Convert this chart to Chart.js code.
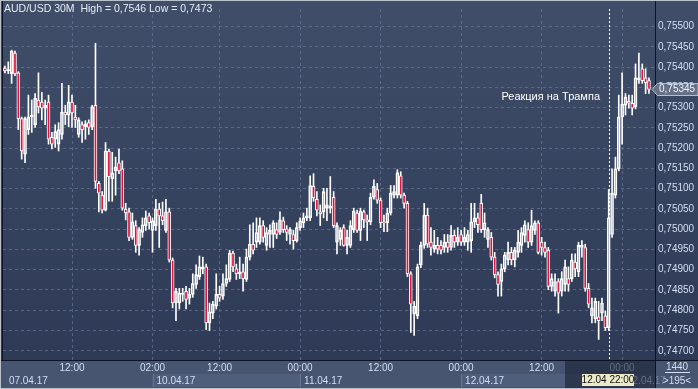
<!DOCTYPE html>
<html lang="ru">

<head>
  <meta charset="UTF-8">
  <script src="https://cdn.jsdelivr.net/npm/chart.js@4.4.0/dist/chart.umd.min.js"></script>
  <title>AUD/USD 30M</title>
  <style>
    body { margin: 0; background: #2f3b57; }
    canvas { display: block; }
  </style>
</head>

<body>
  <canvas id="myChart" width="698" height="389"></canvas>
  <script>
    // AUD/USD 30M candles, 07.04.17 02:00 .. 13.04.17 04:00
    const open = [
      0.75398, 0.75391, 0.75384, 0.75435, 0.75386, 0.75273, 0.75185, 0.75246, 0.75277, 0.75258,
      0.75319, 0.75314, 0.75299, 0.75314, 0.75227, 0.75222, 0.75210, 0.75234, 0.75289, 0.75282,
      0.75314, 0.75277, 0.75234, 0.75258, 0.75253, 0.75263, 0.75253, 0.75306, 0.75113, 0.75084,
      0.75047, 0.75193, 0.75125, 0.75144, 0.75164, 0.75149, 0.75050, 0.75043, 0.74980, 0.75009,
      0.74960, 0.74992, 0.75009, 0.75033, 0.74997, 0.75009, 0.75050, 0.75033, 0.74997, 0.75043,
      0.74924, 0.74818, 0.74818, 0.74839, 0.74847, 0.74830, 0.74839, 0.74864, 0.74883, 0.74902,
      0.74907, 0.74769, 0.74793, 0.74810, 0.74839, 0.74835, 0.74866, 0.74876, 0.74941, 0.74902,
      0.74890, 0.74895, 0.74876, 0.74931, 0.74963, 0.74968, 0.74968, 0.75009, 0.74960, 0.74987,
      0.74987, 0.74999, 0.74992, 0.75021, 0.75001, 0.74987, 0.74987, 0.74972, 0.75004, 0.75016,
      0.75028, 0.75028, 0.75106, 0.75074, 0.75043, 0.75043, 0.75052, 0.75052, 0.75079, 0.74968,
      0.74975, 0.75004, 0.74960, 0.74960, 0.74999, 0.75040, 0.74997, 0.75043, 0.75023, 0.75018,
      0.75079, 0.75098, 0.75072, 0.75018, 0.75016, 0.75040, 0.75084, 0.75084, 0.75132, 0.75084,
      0.75064, 0.74890, 0.74791, 0.74786, 0.74912, 0.74960, 0.75035, 0.74968, 0.74951, 0.74960,
      0.74960, 0.74955, 0.74968, 0.74955, 0.74985, 0.74968, 0.74987, 0.74968, 0.74968, 0.74972,
      0.75018, 0.75028, 0.75064, 0.74999, 0.74975, 0.74980, 0.74931, 0.74888, 0.74871, 0.74902,
      0.74924, 0.74943, 0.74924, 0.74943, 0.74960, 0.74985, 0.74999, 0.74968, 0.74997, 0.75016,
      0.74968, 0.74955, 0.74948, 0.74859, 0.74847, 0.74871, 0.74847, 0.74864, 0.74878, 0.74878,
      0.74919, 0.74895, 0.74955, 0.74955, 0.74854, 0.74786, 0.74779, 0.74784, 0.74793, 0.74786,
      0.74757, 0.74987, 0.75084, 0.75149, 0.75277, 0.75306, 0.75316, 0.75311, 0.75302, 0.75369,
      0.75396, 0.75374, 0.75367
    ];
    const high = [
      0.75403, 0.75413, 0.75442, 0.75440, 0.75389, 0.75277, 0.75277, 0.75331, 0.75319, 0.75335,
      0.75386, 0.75338, 0.75319, 0.75331, 0.75239, 0.75258, 0.75263, 0.75360, 0.75306, 0.75355,
      0.75331, 0.75306, 0.75275, 0.75265, 0.75268, 0.75270, 0.75306, 0.75459, 0.75118, 0.75093,
      0.75214, 0.75198, 0.75190, 0.75178, 0.75198, 0.75169, 0.75064, 0.75052, 0.75040, 0.75021,
      0.75004, 0.75028, 0.75045, 0.75040, 0.75028, 0.75074, 0.75064, 0.75067, 0.75074, 0.75052,
      0.74929, 0.74854, 0.74854, 0.74854, 0.74859, 0.74854, 0.74890, 0.74912, 0.74934, 0.74931,
      0.74914, 0.74818, 0.74822, 0.74890, 0.74859, 0.74890, 0.74912, 0.74948, 0.74946, 0.74914,
      0.74931, 0.74914, 0.74951, 0.75011, 0.75016, 0.75028, 0.75028, 0.75021, 0.75004, 0.75011,
      0.75021, 0.75016, 0.75043, 0.75030, 0.75009, 0.75004, 0.74997, 0.75016, 0.75028, 0.75040,
      0.75052, 0.75132, 0.75137, 0.75093, 0.75060, 0.75101, 0.75101, 0.75130, 0.75093, 0.75016,
      0.75004, 0.75011, 0.74997, 0.75021, 0.75052, 0.75047, 0.75052, 0.75047, 0.75035, 0.75089,
      0.75122, 0.75113, 0.75077, 0.75035, 0.75052, 0.75108, 0.75108, 0.75147, 0.75142, 0.75089,
      0.75069, 0.74895, 0.74822, 0.74914, 0.74968, 0.75064, 0.75052, 0.75004, 0.74997, 0.74980,
      0.74972, 0.74987, 0.74987, 0.75009, 0.74997, 0.75004, 0.74997, 0.75004, 0.74997, 0.75064,
      0.75064, 0.75040, 0.75086, 0.75040, 0.75004, 0.74992, 0.74943, 0.74895, 0.74914, 0.74943,
      0.74968, 0.74955, 0.74955, 0.74997, 0.75004, 0.75021, 0.75016, 0.75047, 0.75021, 0.75021,
      0.74980, 0.74968, 0.74955, 0.74890, 0.74890, 0.74878, 0.74895, 0.74924, 0.74907, 0.74939,
      0.74939, 0.74968, 0.74972, 0.74963, 0.74866, 0.74830, 0.74830, 0.74822, 0.74830, 0.74798,
      0.75098, 0.75149, 0.75178, 0.75331, 0.75386, 0.75335, 0.75331, 0.75331, 0.75408, 0.75435,
      0.75408, 0.75396, 0.75374
    ];
    const low = [
      0.75386, 0.75384, 0.75360, 0.75379, 0.75246, 0.75173, 0.75164, 0.75234, 0.75239, 0.75251,
      0.75287, 0.75270, 0.75258, 0.75210, 0.75198, 0.75202, 0.75193, 0.75222, 0.75258, 0.75253,
      0.75251, 0.75251, 0.75227, 0.75214, 0.75222, 0.75234, 0.75246, 0.75101, 0.75043, 0.75040,
      0.75045, 0.75069, 0.75069, 0.75084, 0.75137, 0.75047, 0.75023, 0.74972, 0.74975, 0.74943,
      0.74936, 0.74980, 0.74997, 0.75001, 0.74943, 0.74997, 0.74955, 0.75011, 0.74992, 0.74919,
      0.74806, 0.74774, 0.74803, 0.74822, 0.74803, 0.74815, 0.74832, 0.74854, 0.74876, 0.74890,
      0.74752, 0.74750, 0.74779, 0.74803, 0.74822, 0.74827, 0.74859, 0.74871, 0.74895, 0.74876,
      0.74878, 0.74847, 0.74871, 0.74924, 0.74939, 0.74955, 0.74963, 0.74968, 0.74948, 0.74955,
      0.74955, 0.74977, 0.74987, 0.74992, 0.74972, 0.74963, 0.74951, 0.74968, 0.74997, 0.75004,
      0.75021, 0.75021, 0.75069, 0.75033, 0.75009, 0.75028, 0.75021, 0.75040, 0.75004, 0.74939,
      0.74960, 0.74958, 0.74939, 0.74955, 0.74992, 0.74992, 0.74972, 0.75004, 0.74972, 0.75011,
      0.75074, 0.75064, 0.75004, 0.74994, 0.74994, 0.75035, 0.75077, 0.75077, 0.75077, 0.75052,
      0.74883, 0.74745, 0.74738, 0.74779, 0.74905, 0.74953, 0.74955, 0.74936, 0.74943, 0.74939,
      0.74939, 0.74943, 0.74943, 0.74948, 0.74955, 0.74960, 0.74960, 0.74960, 0.74948, 0.74943,
      0.75004, 0.74992, 0.74992, 0.74980, 0.74955, 0.74924, 0.74880, 0.74835, 0.74835, 0.74895,
      0.74912, 0.74912, 0.74907, 0.74931, 0.74943, 0.74968, 0.74955, 0.74960, 0.74987, 0.74939,
      0.74936, 0.74931, 0.74851, 0.74847, 0.74835, 0.74793, 0.74835, 0.74847, 0.74847, 0.74871,
      0.74883, 0.74883, 0.74931, 0.74847, 0.74806, 0.74769, 0.74769, 0.74728, 0.74774, 0.74750,
      0.74750, 0.74980, 0.75077, 0.75144, 0.75210, 0.75282, 0.75299, 0.75282, 0.75297, 0.75360,
      0.75360, 0.75335, 0.75335
    ];
    const close = [
      0.75391, 0.75394, 0.75440, 0.75384, 0.75273, 0.75193, 0.75273, 0.75277, 0.75282, 0.75323,
      0.75302, 0.75299, 0.75306, 0.75222, 0.75210, 0.75241, 0.75246, 0.75289, 0.75282, 0.75314,
      0.75287, 0.75270, 0.75270, 0.75246, 0.75260, 0.75251, 0.75302, 0.75118, 0.75089, 0.75047,
      0.75193, 0.75130, 0.75139, 0.75154, 0.75144, 0.75052, 0.75040, 0.74980, 0.75018, 0.74960,
      0.74999, 0.75011, 0.75028, 0.75016, 0.75021, 0.75050, 0.75033, 0.75021, 0.75043, 0.74924,
      0.74818, 0.74847, 0.74842, 0.74842, 0.74827, 0.74839, 0.74866, 0.74888, 0.74907, 0.74907,
      0.74769, 0.74796, 0.74815, 0.74839, 0.74830, 0.74866, 0.74878, 0.74941, 0.74907, 0.74890,
      0.74895, 0.74878, 0.74931, 0.74963, 0.74948, 0.74992, 0.75009, 0.74980, 0.74992, 0.74997,
      0.75016, 0.74987, 0.75023, 0.74999, 0.74992, 0.74999, 0.74972, 0.75004, 0.75021, 0.75028,
      0.75033, 0.75108, 0.75077, 0.75047, 0.75038, 0.75093, 0.75060, 0.75057, 0.75009, 0.75009,
      0.74997, 0.74960, 0.74980, 0.75009, 0.75045, 0.74997, 0.75045, 0.75023, 0.75018, 0.75079,
      0.75106, 0.75072, 0.75016, 0.75016, 0.75040, 0.75089, 0.75093, 0.75139, 0.75084, 0.75064,
      0.74890, 0.74815, 0.74810, 0.74907, 0.74960, 0.75035, 0.74963, 0.74955, 0.74960, 0.74951,
      0.74948, 0.74968, 0.74955, 0.74985, 0.74968, 0.74980, 0.74968, 0.74980, 0.74987, 0.75018,
      0.75028, 0.75011, 0.74999, 0.75016, 0.74999, 0.74931, 0.74888, 0.74864, 0.74902, 0.74936,
      0.74943, 0.74924, 0.74948, 0.74968, 0.74992, 0.75011, 0.74968, 0.75009, 0.75016, 0.74943,
      0.74955, 0.74943, 0.74859, 0.74878, 0.74871, 0.74842, 0.74878, 0.74907, 0.74864, 0.74924,
      0.74902, 0.74960, 0.74960, 0.74854, 0.74815, 0.74806, 0.74822, 0.74774, 0.74818, 0.74757,
      0.75028, 0.75089, 0.75149, 0.75277, 0.75309, 0.75326, 0.75311, 0.75299, 0.75374, 0.75374,
      0.75367, 0.75362, 0.75345
    ];

    // bar index of the labelled grid lines
    const timeTicks = [20, 44, 64, 88, 112, 136, 160, 184];
    const timeLabels = ['12:00', '02:00', '12:00', '00:00', '12:00', '00:00', '12:00', '00:00'];
    const dateIndex = [0, 44, 88, 136];
    const dateLabels = ['07.04.17', '10.04.17', '11.04.17', '12.04.17'];
    const priceTicks = [0.747, 0.7475, 0.748, 0.7485, 0.749, 0.7495, 0.75, 0.7505, 0.751,
      0.7515, 0.752, 0.7525, 0.753, 0.7535, 0.754, 0.7545, 0.755];

    const title = 'AUD/USD 30M  High = 0,7546 Low = 0,7473';
    const note = 'Реакция на Трампа';
    const markerIndex = 180;
    const markerLabel = '12.04 22:00';
    const lastPrice = 0.75345;

    const FONT = "'Liberation Sans', Arial, sans-serif";
    const LABEL = '#d3def3';
    const RED = '#e3123c';

    const comma = (v, d) => v.toFixed(d).replace('.', ',');

    const bodies = close.map((c, i) => ({ x: i, y: [open[i], c] }));
    const upperWicks = close.map((c, i) => ({ x: i, y: [Math.max(open[i], c), high[i]] }));
    const lowerWicks = close.map((c, i) => ({ x: i, y: [low[i], Math.min(open[i], c)] }));
    const bodyFill = close.map((c, i) => c < open[i] ? RED : 'rgba(0,0,0,0)');

    const frame = {
      id: 'mt4_frame',
      beforeDraw: (chart) => {
        const ctx = chart.ctx;
        const area = chart.chartArea;
        const W = chart.width, H = chart.height;
        ctx.save();
        const g = ctx.createLinearGradient(0, 0, 0, H);
        g.addColorStop(0, '#404e6a');
        g.addColorStop(1, '#2c3854');
        ctx.fillStyle = g;
        ctx.fillRect(0, 0, W, H);
        // bottom time axis strip
        ctx.fillStyle = '#475571';
        ctx.fillRect(0, area.bottom, W, H - area.bottom);
        // date boxes
        const xs = chart.scales.x;
        dateIndex.forEach((d, k) => {
          const x0 = k === 0 ? 0 : xs.getPixelForValue(d);
          const x1 = k < dateIndex.length - 1 ? xs.getPixelForValue(dateIndex[k + 1]) : area.right;
          if (k % 2 === 1) {
            ctx.fillStyle = '#4f5e7b';
            ctx.fillRect(x0, area.bottom + 14, x1 - x0, 13);
          }
          if (k > 0) {
            ctx.fillStyle = '#6a7894';
            ctx.fillRect(Math.round(x0), area.bottom + 14, 1, 13);
          }
        });
        ctx.restore();
      },
      afterDraw: (chart) => {
        const ctx = chart.ctx;
        const area = chart.chartArea;
        const W = chart.width, H = chart.height;
        const xs = chart.scales.x, ys = chart.scales.y;
        ctx.save();

        // date labels
        ctx.font = '10px ' + FONT;
        ctx.fillStyle = LABEL;
        ctx.textBaseline = 'middle';
        ctx.textAlign = 'left';
        dateIndex.forEach((d, k) => {
          ctx.fillText(dateLabels[k], xs.getPixelForValue(d) + 4, area.bottom + 21);
        });

        // shaded tail of the time axis
        ctx.fillStyle = 'rgba(24,32,50,0.62)';
        ctx.fillRect(565, area.bottom + 1, area.right - 565, H - area.bottom - 2);
        ctx.fillStyle = 'rgba(200,210,225,0.35)';
        ctx.fillText(dateLabels[3], 627, area.bottom + 21);

        // frame lines
        ctx.fillStyle = '#0e1322';
        ctx.fillRect(area.right, 0, 1, H);
        ctx.fillRect(0, area.bottom, W, 1);
        ctx.fillRect(2, 0, 1, area.bottom);
        ctx.fillStyle = '#b9c1cd';
        ctx.fillRect(0, 0, W, 1);
        ctx.fillRect(0, 0, 1, H);
        ctx.fillRect(0, H - 1, W, 1);

        // marker line
        const mx = Math.round(xs.getPixelForValue(markerIndex)) + 0.5;
        ctx.strokeStyle = '#ffffff';
        ctx.lineWidth = 1;
        ctx.setLineDash([2, 2]);
        ctx.beginPath();
        ctx.moveTo(mx, area.top);
        ctx.lineTo(mx, area.bottom);
        ctx.stroke();
        ctx.setLineDash([]);

        // marker time label
        ctx.fillStyle = '#eceac9';
        ctx.fillRect(582, area.bottom + 14, 52, 12);
        ctx.fillStyle = '#111111';
        ctx.textAlign = 'center';
        ctx.fillText(markerLabel, 608, area.bottom + 20.5);

        // note
        ctx.font = '11px ' + FONT;
        ctx.fillStyle = '#ffffff';
        ctx.textAlign = 'right';
        ctx.textBaseline = 'alphabetic';
        ctx.fillText(note, 600, 100);

        // title
        ctx.font = '10.5px ' + FONT;
        ctx.fillStyle = '#e6ecf6';
        ctx.textAlign = 'left';
        ctx.fillText(title, 4, 12);

        // last price tag
        const py = Math.round(ys.getPixelForValue(lastPrice));
        ctx.fillStyle = '#667086';
        ctx.strokeStyle = '#b6bfcd';
        ctx.beginPath();
        ctx.moveTo(area.right - 3, py + 0.5);
        ctx.lineTo(area.right + 2.5, py - 5.5);
        ctx.lineTo(W, py - 5.5);
        ctx.lineTo(W, py + 6.5);
        ctx.lineTo(area.right + 2.5, py + 6.5);
        ctx.closePath();
        ctx.fill();
        ctx.stroke();
        ctx.font = '10px ' + FONT;
        ctx.fillStyle = '#eef3ff';
        ctx.textBaseline = 'middle';
        ctx.fillText(comma(lastPrice, 5), area.right + 4, py + 0.5);

        // bottom right box
        ctx.fillStyle = LABEL;
        ctx.textAlign = 'center';
        ctx.fillText('1440', 677, area.bottom + 7.5);
        ctx.fillRect(665, area.bottom + 12, 25, 1);
        ctx.fillText('>195<', 677, area.bottom + 21);
        ctx.restore();
      }
    };

    const grid = { color: 'rgba(112,128,162,0.6)', drawTicks: false, offset: false, lineWidth: 1 };

    new Chart(document.getElementById('myChart'), {
      type: 'bar',
      data: {
        datasets: [
          { data: upperWicks, backgroundColor: '#ffffff', barThickness: 1, grouped: false, order: 2 },
          { data: lowerWicks, backgroundColor: '#ffffff', barThickness: 1, grouped: false, order: 2 },
          {
            data: bodies, backgroundColor: bodyFill, borderColor: '#ffffff', borderWidth: 1,
            borderSkipped: false, barThickness: 3, minBarLength: 1, grouped: false, order: 1
          }
        ]
      },
      plugins: [frame],
      options: {
        responsive: false,
        animation: false,
        layout: { padding: { left: 3, top: 2, right: 0, bottom: 0 } },
        plugins: { legend: { display: false }, tooltip: { enabled: false } },
        scales: {
          x: {
            type: 'linear',
            min: -0.57,
            max: 193.8,
            offset: false,
            afterFit: (s) => { s.height = 29 },
            afterBuildTicks: (s) => { s.ticks = timeTicks.map(v => ({ value: v })) },
            ticks: {
              callback: (v, i) => timeLabels[i],
              color: LABEL,
              font: { size: 10, family: FONT },
              padding: 2,
              maxRotation: 0,
              autoSkip: false
            },
            grid: grid,
            border: { display: false, dash: [3, 3] }
          },
          y: {
            position: 'right',
            min: 0.746772,
            max: 0.755436,
            afterFit: (s) => { s.width = 43 },
            afterBuildTicks: (s) => { s.ticks = priceTicks.map(v => ({ value: v })) },
            ticks: {
              callback: (v) => comma(v, 5),
              color: LABEL,
              font: { size: 10, family: FONT },
              padding: 3
            },
            grid: grid,
            border: { display: false, dash: [3, 3] }
          }
        }
      }
    })
  </script>
</body>

</html>
